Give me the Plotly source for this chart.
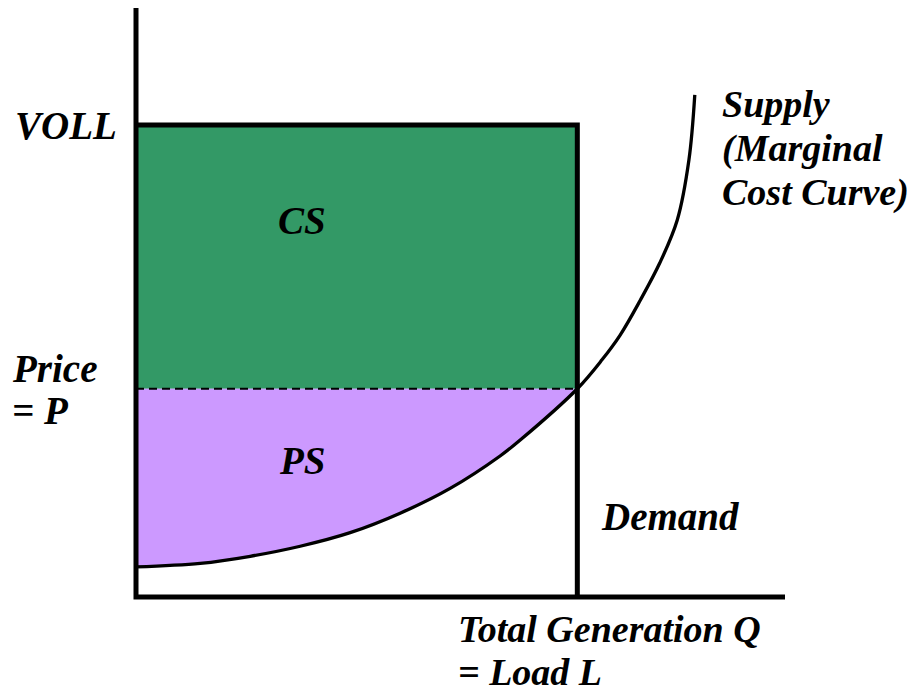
import plotly.graph_objects as go

# ---- data (economic units) ----
supply_q = [0.00, 0.99, 1.76, 2.53, 3.30, 4.07, 4.84, 5.61, 5.92, 6.80, 7.18, 7.46, 7.77, 8.07, 8.34, 8.52, 8.61]
supply_p = [0.51, 0.57, 0.69, 0.86, 1.09, 1.42, 1.84, 2.39, 2.66, 3.53, 4.02, 4.44, 5.03, 5.66, 6.39, 7.41, 8.51]
VOLL = 8.0     # value of lost load
P = 3.53       # market price
L = 6.8        # load / total generation
Q_MAX = 10.0
P_MAX = 10.0

GREEN = "#339966"
PURPLE = "#CC99FF"
FONT = "Liberation Serif"

fig = go.Figure()

# consumer surplus rectangle
fig.add_trace(go.Scatter(x=[0, L, L, 0, 0], y=[P, P, VOLL, VOLL, P], mode="lines",
                         fill="toself", fillcolor=GREEN, line=dict(width=0)))

# producer surplus: between price line and supply curve
fig.add_trace(go.Scatter(x=[0, L], y=[P, P], mode="lines", line=dict(width=0)))
ps_q = [q for q in supply_q if q <= L]
ps_p = [p for q, p in zip(supply_q, supply_p) if q <= L]
fig.add_trace(go.Scatter(x=ps_q, y=ps_p, mode="lines", fill="tonexty", fillcolor=PURPLE,
                         line=dict(width=0, shape="spline")))

# dashed price line
fig.add_trace(go.Scatter(x=[0, L], y=[P, P], mode="lines",
                         line=dict(color="black", width=2, dash="8px,5px")))

# supply curve
fig.add_trace(go.Scatter(x=supply_q, y=supply_p, mode="lines",
                         line=dict(color="black", width=3.3, shape="spline")))

# VOLL line + vertical demand
fig.add_trace(go.Scatter(x=[0, L, L], y=[VOLL, VOLL, 0], mode="lines",
                         line=dict(color="black", width=5)))

# axes
fig.add_trace(go.Scatter(x=[0, 0, Q_MAX], y=[P_MAX, 0, 0], mode="lines",
                         line=dict(color="black", width=5)))

# ---- scale: Q=0 at screen x=136, P=0 at screen y=597 (page body offset 8px) ----
XPX = 64.9   # px per Q unit
YPX = 59.0   # px per P unit
OFF = 8
W, H = 915 - OFF, 694 - OFF
def qx(px):
    return (px - 136) / XPX
def py(pix):
    return (597 - pix) / YPX

def label(text, x, y, xanchor="left", size=39):
    fig.add_annotation(x=x, y=y, xref="x", yref="y", text="<b><i>" + text + "</i></b>",
                       showarrow=False, xanchor=xanchor, yanchor="middle",
                       font=dict(family=FONT, size=size, color="black"))

label("VOLL", qx(13), VOLL)
label("Price", qx(10), py(368))
label("= P", qx(10), py(410))
label("CS", qx(302), py(220), xanchor="center")
label("PS", qx(302), py(460), xanchor="center")
label("Demand", qx(599), py(516))
label("Supply", qx(720), py(104), size=38)
label("(Marginal", qx(720), py(148), size=38)
label("Cost Curve)", qx(720), py(192), size=38)
label("Total Generation Q", qx(456), py(629), size=38)
label("= Load L", qx(456), py(672), size=38)

x_lo, x_hi = qx(OFF), qx(OFF + W)
y_hi, y_lo = py(OFF), py(OFF + H)
fig.update_layout(
    width=W, height=H,
    margin=dict(l=0, r=0, t=0, b=0, pad=0),
    paper_bgcolor="white", plot_bgcolor="white",
    showlegend=False, hovermode=False,
    xaxis=dict(range=[x_lo, x_hi], visible=False, fixedrange=True),
    yaxis=dict(range=[y_lo, y_hi], visible=False, fixedrange=True),
)

fig.write_html("out.html")
